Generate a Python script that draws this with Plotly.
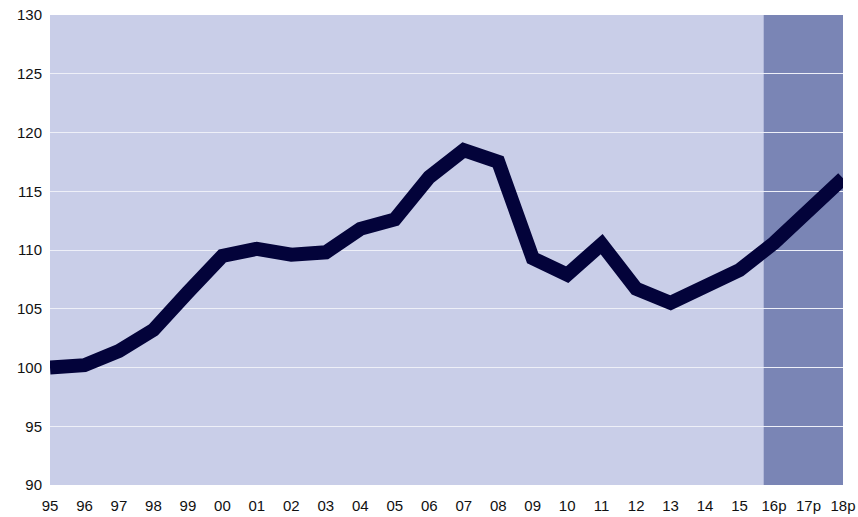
import plotly.graph_objects as go

years = ["95", "96", "97", "98", "99", "00", "01", "02", "03", "04", "05", "06",
         "07", "08", "09", "10", "11", "12", "13", "14", "15", "16p", "17p", "18p"]
index_values = [100.0, 100.2, 101.4, 103.2, 106.4, 109.5, 110.1, 109.6, 109.8, 111.8,
                112.6, 116.2, 118.5, 117.5, 109.3, 107.9, 110.5, 106.7, 105.5, 106.8,
                108.3, 110.6, 113.3, 116.1]
y_ticks = [90, 95, 100, 105, 110, 115, 120, 125, 130]

bgcolor = "#C9CEE8"
forecast_color = "#7A85B5"
positions = list(range(len(years)))

fig = go.Figure()

fig.add_trace(
    go.Scatter(x = positions,
               y = index_values,
               mode = "lines",
               line = dict(color = "#03033A", width = 14),
               showlegend = False,
               hoverinfo = "skip"))

# forecast shading
fig.add_shape(type = "rect", xref = "x", yref = "paper",
              x0 = 20.7, x1 = positions[-1], y0 = 0, y1 = 1,
              fillcolor = forecast_color, line = dict(width = 0), layer = "below")

fig.update_layout(width = 858,
                  height = 517,
                  margin = dict(l = 50, r = 15, t = 15, b = 32),
                  paper_bgcolor = "white",
                  plot_bgcolor = bgcolor,
                  font = dict(family = "Liberation Sans, Arial", size = 15, color = "#111111"),
                  xaxis = dict(range = [0, positions[-1]],
                               tickvals = positions,
                               ticktext = years,
                               showgrid = False,
                               zeroline = False,
                               ticks = "",
                               automargin = False,
                               ticklabelstandoff = 10),
                  yaxis = dict(range = [90, 130],
                               tickvals = y_ticks,
                               showgrid = True,
                               gridcolor = "#EEF0F8",
                               gridwidth = 1,
                               zeroline = False,
                               ticks = "",
                               automargin = False,
                               ticklabelstandoff = 7))

# drop the page's default body margin so the figure sits at the window corner
fig.write_html("out.html",
               config = dict(displayModeBar = False),
               post_script = "document.body.style.margin = '0';")
